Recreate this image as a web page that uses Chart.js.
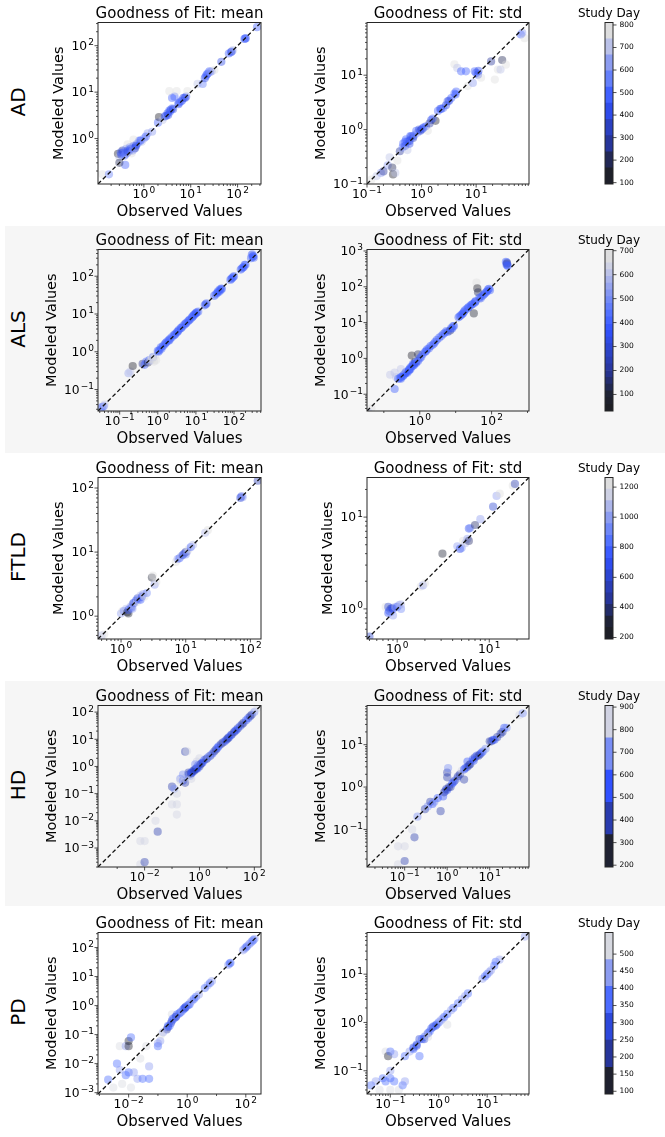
<!DOCTYPE html>
<html><head><meta charset="utf-8"><title>Goodness of Fit</title>
<script src="https://cdn.jsdelivr.net/npm/chart.js@4.4.1/dist/chart.umd.min.js"></script>
<style>
html,body{margin:0;padding:0;background:#fff}
#page{position:relative;width:665px;height:1137px;overflow:hidden;font-family:'DejaVu Sans',sans-serif;color:#000}
.band{position:absolute;left:5px;width:660px;background:#f6f6f6}
.cv{position:absolute}
.ttl{position:absolute;width:300px;text-align:center;font-size:15px;line-height:18px;white-space:nowrap}
.cbt{position:absolute;width:100px;text-align:center;font-size:12px;line-height:14px;white-space:nowrap}
.rl{position:absolute;width:80px;height:24px;line-height:24px;text-align:center;font-size:20px;transform:rotate(-90deg);white-space:nowrap}
</style></head>
<body><div id="page"></div>
<script>
// ---------------- DATA ----------------
const rowNames = ['AD','ALS','FTLD','HD','PD'];
const panelTitles = ['Goodness of Fit: mean','Goodness of Fit: std'];
const xAxisTitle = 'Observed Values';
const yAxisTitle = 'Modeled Values';
const cbarTitle = 'Study Day';

// AD
const adMeanLim = [0.105, 316];
const adMeanXTicks = [1, 10, 100];
const adMeanYTicks = [1, 10, 100];
const adMeanObs = [0.13,0.18,0.28,0.3,0.32,0.35,0.38,0.4,0.42,0.45,0.47,0.5,0.5,0.55,0.6,0.62,0.65,0.7,0.75,0.8,0.9,1.0,0.45,0.6,0.3,1.2,1.5,2.0,2.1,2.5,2.8,3.0,3.2,3.5,3.8,4.0,4.0,4.5,3.5,5.0,5.5,6.0,7.0,8.0,8.5,6.5,14,18,20,22,25,28,32,45,65,72,80,140,150,260,
  0.33,0.36,0.4,0.45,0.52,0.58,0.68,0.85,1.1,3.3,3.6,4.2,5.5,6.5,7.5,21,23,26,75,145];
const adMeanMod = [0.17,0.17,0.47,0.4,0.5,0.55,0.42,0.27,0.6,0.5,0.55,0.55,0.65,0.48,0.7,0.6,0.62,0.75,0.8,0.9,0.85,1.0,0.75,0.95,0.3,1.3,1.4,2.2,2.9,2.5,3.0,3.1,3.5,4.0,4.2,4.5,7.5,8.0,10.5,10.5,5.5,6.2,7.5,8.0,10.5,6.8,15,15,20,24,28,28,30,45,68,72,80,140,145,250,
  0.45,0.5,0.45,0.55,0.6,0.55,0.7,0.9,1.1,3.2,3.8,4.3,5.8,6.5,7.5,22,25,27,75,142];
const adMeanDay = [780,560,150,700,480,300,620,470,550,250,650,420,520,750,450,600,380,470,530,480,700,600,780,780,200,650,600,500,160,720,420,480,450,500,420,560,470,500,790,780,450,500,420,480,760,620,700,560,450,480,520,600,760,450,480,520,700,470,500,480,
  450,500,550,420,480,600,450,520,480,450,500,420,480,520,450,480,500,600,450,480];

const adStdLim = [0.1, 93];
const adStdXTicks = [0.1, 1, 10];
const adStdYTicks = [0.1, 1, 10];
const adStdObs = [0.12,0.15,0.18,0.2,0.24,0.26,0.29,0.3,0.33,0.36,0.4,0.45,0.46,0.5,0.5,0.52,0.55,0.6,0.62,0.65,0.7,0.75,0.8,0.85,0.9,1.0,1.1,1.2,1.3,1.5,1.8,2.0,2.2,2.5,3.0,3.5,4.0,4.3,4.0,4.5,5.3,6.5,7.0,8.7,9.4,10.8,12.3,18.8,22,25,28,30,35,66,77,
  0.55,0.6,0.7,0.95,1.05,1.4,1.6,2.3,2.8,3.2,4.2,10,11,70];
const adStdMod = [0.12,0.14,0.16,0.17,0.22,0.31,0.2,0.15,0.16,0.27,0.4,0.47,0.55,0.5,0.6,0.66,0.42,0.55,0.76,0.75,0.7,0.8,0.95,0.88,1.0,1.0,1.1,1.15,0.95,1.5,1.45,2.2,2.4,2.5,3.3,3.8,4.6,5.0,15.9,13.6,11.8,11.8,6.3,7.2,11.8,10.2,9.0,17.9,8.3,12.7,12.7,19,15.6,56,48,
  0.6,0.62,0.75,0.95,1.05,1.3,1.6,2.4,2.8,3.4,4.4,11,12,60];
const adStdDay = [780,700,600,250,650,720,200,150,700,760,300,550,480,420,500,470,700,450,480,450,350,600,500,650,400,300,480,520,760,450,160,500,400,550,420,480,500,480,790,700,520,480,780,620,500,450,760,300,780,740,700,200,770,500,780,
  480,450,500,420,520,300,480,500,450,420,480,500,450,650];

// ALS
const alsMeanLim = [0.027, 510];
const alsMeanXTicks = [0.1, 1, 10, 100];
const alsMeanYTicks = [0.1, 1, 10, 100];
const alsMeanObs = [0.034,0.038,0.04,0.17,0.19,0.22,0.4,0.45,0.5,0.55,0.6,0.65,0.7,0.75,0.8,0.85,0.9,1.0,1.1,1.2,1.35,1.5,1.7,1.9,2.1,2.3,2.6,2.9,3.2,3.6,4.0,4.5,5.0,5.6,6.2,7.0,7.8,8.6,9.5,10.5,11.5,18,30,33,36,40,44,48,80,90,100,150,170,200,280,290,310,330,
  1.05,1.25,1.6,2.0,2.8,3.4,4.2,5.3,6.6,8.2,9,10,17,19,38,42,46,85,95,160,180,190,300,320,0.6,0.7];
const alsMeanMod = [0.034,0.036,0.04,0.27,0.3,0.42,0.48,0.45,0.55,0.52,0.6,0.62,0.6,0.72,0.55,0.78,0.6,1.05,1.1,1.3,1.4,1.55,1.8,2.0,2.2,2.4,2.7,3.0,3.3,3.8,4.2,4.7,5.2,5.8,6.4,7.2,8.0,9.0,10,11,11.5,18,30,33,36,38,42,46,80,90,100,150,170,200,300,360,330,310,
  1.0,1.2,1.7,2.0,2.8,3.5,4.3,5.5,6.8,8.5,9.5,10.5,17,19,40,44,47,85,95,160,175,200,380,340,0.55,0.65];
const alsMeanDay = [380,420,600,560,600,60,200,380,420,100,380,640,680,420,660,650,690,380,400,420,380,400,420,380,400,420,380,400,360,420,380,400,420,380,400,420,380,400,420,380,420,300,400,420,380,400,420,380,400,420,400,380,420,400,380,550,420,400,
  400,420,380,400,420,380,400,420,380,400,420,380,400,420,380,400,420,380,400,420,380,400,420,380,600,680];

const alsStdLim = [0.034, 1100];
const alsStdXTicks = [1, 100];
const alsStdYTicks = [0.1, 1, 10, 100, 1000];
const alsStdObs = [0.038,0.042,0.045,0.2,0.2,0.22,0.25,0.28,0.3,0.33,0.36,0.4,0.42,0.45,0.5,0.52,0.55,0.6,0.6,0.65,0.7,0.75,0.8,0.85,0.9,0.9,1.0,1.1,1.2,1.4,1.6,1.8,2.0,2.3,2.7,3.0,3.5,4.0,4.5,5.0,6.0,7.0,8.0,9.0,12,13,15,17,20,23,26,30,32,35,38,40,42,45,50,60,70,80,90,250,260,270,280,
  0.3,0.35,0.4,0.5,0.55,0.65,0.7,0.8,1.5,2.5,5.5,7.5,8.5,14,16,18,22,28,34,36,46,55,65,75,85,265,275,0.15,0.3];
const alsStdMod = [0.03,0.025,0.04,0.14,0.4,0.3,0.27,0.28,0.3,0.32,0.35,0.38,0.42,0.4,0.45,0.5,0.55,0.6,1.2,0.62,0.7,0.8,0.75,0.95,0.85,1.3,1.0,1.1,1.3,1.5,1.8,1.9,2.2,2.4,2.9,3.3,3.8,4.2,4.8,5.2,5.5,6.0,6.8,8.0,14,15,17,20,24,27,30,33,18,38,130,90,70,45,48,60,70,85,80,500,420,450,380,
  0.27,0.33,0.4,0.48,0.5,0.7,0.65,0.8,1.6,2.6,5.8,7,8,16,18,22,26,32,36,40,50,55,65,75,88,480,400,0.35,0.5];
const alsStdDay = [550,60,650,380,620,600,400,420,380,400,420,380,400,420,380,400,420,380,60,400,420,100,380,650,400,120,380,420,400,380,420,400,380,420,400,380,420,400,380,420,400,150,380,420,380,400,420,380,400,420,380,400,100,420,680,80,120,600,400,380,420,400,380,400,380,80,420,
  400,420,380,400,420,380,400,420,380,400,420,380,400,420,380,400,420,380,400,420,380,400,420,380,400,420,380,600,620];

// FTLD
const ftldMeanLim = [0.44, 146];
const ftldMeanXTicks = [1, 10, 100];
const ftldMeanYTicks = [1, 10, 100];
const ftldMeanObs = [0.5,0.55,1.0,1.05,1.1,1.2,1.25,1.3,1.3,1.4,1.45,1.5,1.55,1.6,1.7,1.75,1.8,1.9,2.0,2.0,2.1,2.2,2.3,2.5,1.5,3.0,3.1,3.3,3.5,7.0,7.5,8.0,8.5,9.0,9.5,10,10,10.5,11,12,13,20,22,70,73,76,130];
const ftldMeanMod = [0.5,0.52,1.1,1.2,1.2,1.3,1.15,1.1,1.25,1.4,1.35,1.5,1.6,1.6,1.75,1.65,1.9,1.85,1.8,2.1,2.0,2.2,2.0,2.3,1.3,4.0,4.3,3.1,3.4,7.0,7.8,8.0,8.6,9.0,9.5,10,9.2,10.2,11,12,13,20,22,70,74,72,130];
const ftldMeanDay = [1100,1230,1000,1230,900,1100,230,300,800,1000,700,1100,650,900,750,1230,600,1000,800,1100,700,1000,1230,900,1000,300,1230,1000,1230,1230,1000,800,1100,600,700,450,900,1000,1230,800,1100,1100,1230,600,700,1000,500];

const ftldStdLim = [0.47, 27];
const ftldStdXTicks = [1, 10];
const ftldStdYTicks = [1, 10];
const ftldStdObs = [0.5,0.75,0.8,0.8,0.82,0.85,0.85,0.88,0.9,0.9,0.95,1.0,1.05,1.1,1.1,1.8,1.9,2.0,3.1,4.5,4.8,5.0,5.2,5.5,5.8,6.0,6.0,6.2,7.0,8.0,11,12,13,18,19];
const ftldStdMod = [0.5,1.05,0.9,1.05,0.95,1.0,0.92,1.02,0.85,1.0,1.05,1.05,1.1,1.0,1.12,1.75,1.8,1.9,4.0,4.8,4.5,4.6,5.5,5.2,5.8,5.5,7.5,7.6,8.2,9.5,13,17,18,22,23];
const ftldStdDay = [600,1230,700,600,800,500,900,650,1000,700,1100,800,1000,900,1100,1230,1000,1230,300,1000,700,900,1230,1100,1000,400,700,900,350,1000,600,1000,1230,1230,500];

// HD
const hdMeanLim = [0.0002, 175];
const hdMeanXTicks = [0.01, 1, 100];
const hdMeanYTicks = [0.001, 0.01, 0.1, 1, 10, 100];
const hdMeanObs = [0.007,0.01,0.007,0.01,0.025,0.03,0.1,0.15,0.15,0.1,0.12,0.15,0.2,0.25,0.3,0.3,0.3,0.35,0.4,0.4,0.45,0.5,0.5,0.6,0.7,0.8,0.8,0.9,1.0,1.0,1.2,1.5,2.0,2.5,3.0,4.0,5.0,6.0,8.0,10,12,15,20,25,30,40,60,80,100,130,
  0.5,0.55,0.65,0.75,0.85,1.1,1.3,1.8,2.2,3.5,4.5,7,9,11,14,18,22,35,50,70,0.25,0.2,0.7];
const hdMeanMod = [0.00025,0.0003,0.0018,0.0018,0.01,0.004,0.04,0.017,0.04,0.18,0.15,0.1,0.35,0.3,0.38,0.25,3.5,3.6,0.6,0.5,0.45,0.6,0.35,0.7,0.8,0.9,1.5,1.1,1.0,2.0,1.3,1.7,2.1,2.5,3.0,4.2,5.5,6.5,8.0,10,12,15,20,25,30,40,60,80,100,140,
  0.55,0.6,0.7,0.8,0.85,1.2,1.4,1.9,2.3,3.6,4.8,7.5,9,11,14,18,22,35,50,70,0.5,0.3,1.2];
const hdMeanDay = [840,400,840,840,840,450,840,840,840,450,690,840,690,550,840,400,450,840,400,450,690,550,840,450,550,400,840,550,450,840,450,550,690,450,550,450,550,450,690,450,550,450,550,450,550,450,550,450,690,840,
  450,550,450,400,550,450,550,450,690,450,550,450,550,450,550,450,550,450,550,450,690,840,690];

const hdStdLim = [0.013, 84];
const hdStdXTicks = [0.1, 1, 10];
const hdStdYTicks = [0.1, 1, 10];
const hdStdObs = [0.07,0.1,0.07,0.1,0.15,0.17,0.2,0.3,0.35,0.4,0.45,0.5,0.7,0.8,0.9,0.95,1.0,1.0,1.0,1.05,1.2,1.3,1.5,1.7,2.0,2.2,2.5,2.5,3.0,3.0,3.5,4.0,4.5,5.0,6.0,7.0,10,12,15,20,22,50,60,
  1.1,1.4,1.8,2.7,3.3,4.2,5.5,6.5,8,11,13,18,25,0.6,0.85];
const hdStdMod = [0.015,0.018,0.04,0.04,0.1,0.065,0.2,0.3,0.35,0.45,0.4,0.45,0.27,0.6,0.8,0.9,1.7,2.2,0.85,2.8,1.0,1.2,1.4,1.6,2.0,2.4,1.5,2.6,3.0,4.0,3.5,4.5,5.0,5.5,6.0,7.0,12,13,15,20,25,50,55,
  1.0,1.3,1.8,2.8,3.3,4.2,5.5,6.5,8,12,13,18,25,0.55,0.75];
const hdStdDay = [840,450,840,840,840,450,690,450,690,450,550,690,450,550,690,450,450,400,550,690,450,550,450,690,450,840,450,550,450,550,450,550,450,550,450,690,450,550,450,450,550,840,690,
  450,550,450,550,450,550,450,550,690,450,550,450,690,550,450];

// PD
const pdMeanLim = [0.0009, 330];
const pdMeanXTicks = [0.01, 1, 100];
const pdMeanYTicks = [0.001, 0.01, 0.1, 1, 10, 100];
const pdMeanObs = [0.002,0.003,0.004,0.005,0.005,0.006,0.008,0.008,0.01,0.01,0.01,0.012,0.012,0.015,0.02,0.025,0.03,0.04,0.05,0.05,0.1,0.1,0.12,0.2,0.22,0.25,0.3,0.3,0.35,0.4,0.45,0.5,0.6,0.7,0.8,0.9,1.0,1.2,1.5,2.0,5.0,6.0,25,30,80,100,130,160,200,
  0.22,0.28,0.32,0.38,0.42,0.55,0.65,0.75,0.85,1.1,1.3,1.7,2.5,4,7,28,90,110,140,180,0.15,0.13];
const pdMeanMod = [0.0028,0.0015,0.01,0.006,0.04,0.002,0.004,0.04,0.06,0.04,0.005,0.08,0.0015,0.005,0.003,0.015,0.003,0.04,0.003,0.008,0.05,0.04,0.06,0.15,0.18,0.2,0.3,0.5,0.35,0.4,0.5,0.5,0.6,0.7,0.8,0.9,1.0,1.1,1.5,2.0,5.0,6.0,25,30,80,100,130,160,200,
  0.2,0.25,0.35,0.4,0.42,0.55,0.62,0.75,0.85,1.05,1.3,1.7,2.4,4,7,28,90,110,140,180,0.12,0.1];
const pdMeanDay = [360,520,360,440,520,520,360,440,130,150,360,360,520,440,440,520,360,520,360,440,440,360,440,210,290,360,290,520,360,290,360,440,360,440,360,290,440,360,440,360,440,360,440,360,440,360,440,360,440,
  360,290,360,440,290,360,440,360,290,360,440,360,440,360,440,360,440,360,440,360,440,520];

const pdStdLim = [0.033, 73];
const pdStdXTicks = [0.1, 1, 10];
const pdStdYTicks = [0.1, 1, 10];
const pdStdObs = [0.04,0.05,0.06,0.07,0.08,0.08,0.09,0.1,0.1,0.1,0.1,0.12,0.12,0.15,0.18,0.2,0.2,0.25,0.3,0.35,0.4,0.4,0.5,0.6,0.7,0.8,0.9,1.0,1.2,1.5,1.5,2.0,3.0,4.0,8.0,10,12,15,18,60,
  0.3,0.35,0.45,0.55,0.65,0.75,0.85,1.1,1.3,1.8,2.5,3.5,9,11,14,0.5,0.6];
const pdStdMod = [0.05,0.06,0.04,0.07,0.06,0.25,0.2,0.25,0.1,0.07,0.04,0.22,0.06,0.04,0.05,0.06,0.2,0.25,0.3,0.35,0.45,0.2,0.5,0.6,0.75,0.85,0.9,1.0,1.2,1.5,0.9,2.0,3.0,4.0,8.0,10,12,18,20,60,
  0.28,0.33,0.45,0.55,0.65,0.8,0.85,1.1,1.3,1.8,2.5,3.5,9,11,15,0.45,0.5];
const pdStdDay = [360,440,520,360,360,520,130,360,440,360,520,440,360,520,360,440,360,440,290,360,290,360,360,290,360,440,290,360,440,360,520,360,440,360,440,360,440,360,440,440,
  360,290,360,440,360,290,360,440,360,440,360,440,360,440,360,290,520];

// Colorbars (Study Day): band boundaries and tick labels
const adDayBounds = [94,166,237,309,381,453,524,596,668,739,811];
const adDayTicks = [100,200,300,400,500,600,700,800];
const alsDayBounds = [31,59,87,115,143,171,200,228,256,284,312,340,368,396,424,452,480,508,537,565,593,621,649,677,705];
const alsDayTicks = [100,200,300,400,500,600,700];
const ftldDayBounds = [190,267,343,420,497,573,650,727,804,880,957,1034,1110,1187,1264];
const ftldDayTicks = [200,400,600,800,1000,1200];
const hdDayBounds = [192,335,478,621,764,907];
const hdDayTicks = [200,300,400,500,600,700,800,900];
const pdDayBounds = [92,170,249,327,406,484,563];
const pdDayTicks = [100,150,200,250,300,350,400,450,500];

// ---------------- STYLE / LAYOUT ----------------
Chart.defaults.font.family = "'DejaVu Sans'";
Chart.defaults.color = '#000';
const FONT = "'DejaVu Sans'";
const rowTops = [0, 227, 455, 683, 910];
const frameX = [[98, 261], [367, 529]];
const FR_TOP = 22.5, FR_BOT = 184, ROW_H = 227;
const YAX_W = 68, CANVAS_W = 250;
const TICK_LEN = 3.5;
const BASE_FS = 12.3, SUP_FS = 9, SUP_RAISE = 4.8, SUP_GAP = 1.2;
const XLAB_BASE = 14, YLAB_PAD = 4, YLAB_DROP = 4.3;
const ALPHA = 0.42, RADIUS = 4.1;
const cmapStops = [
  [0, [28,29,33]], [0.1, [31,34,50]], [0.25, [39,53,154]], [0.42, [45,72,221]],
  [0.5, [48,80,255]], [0.6, [80,112,255]], [0.75, [140,156,240]], [0.87, [195,200,230]],
  [0.93, [220,220,222]], [1, [222,222,222]]
];
function cmap(t) {
  for (let i = 1; i < cmapStops.length; i++) {
    if (t <= cmapStops[i][0]) {
      const [t0, c0] = cmapStops[i-1], [t1, c1] = cmapStops[i];
      const f = (t - t0) / (t1 - t0);
      return c0.map((v, k) => Math.round(v + (c1[k] - v) * f));
    }
  }
  return cmapStops[cmapStops.length-1][1];
}
function bandIndex(day, bounds) {
  let i = 0;
  while (i < bounds.length - 2 && day > bounds[i+1]) i++;
  return i;
}
function dayColor(day, bounds, a) {
  const n = bounds.length - 1;
  const c = cmap((bandIndex(day, bounds) + 0.5) / n);
  return `rgba(${c[0]},${c[1]},${c[2]},${a})`;
}
function expText(v) { return String(Math.round(Math.log10(v))).replace('-', '\u2212'); }
function buildLogTicks(lim, labeled) {
  const lo = Math.log10(lim[0]), hi = Math.log10(lim[1]);
  const labE = labeled.map(v => Math.round(Math.log10(v)));
  const decs = [];
  for (let e = Math.ceil(lo - 1e-9); e <= Math.floor(hi + 1e-9); e++) decs.push(e);
  const stride1 = decs.every(e => labE.includes(e));
  const out = [];
  for (let e = Math.floor(lo) - 1; e <= Math.ceil(hi); e++) {
    const base = Math.pow(10, e);
    if (labE.includes(e)) out.push({value: base, major: true, lab: true});
    else if (!stride1) out.push({value: base, major: false, lab: false});
    if (stride1) for (let k = 2; k <= 9; k++) out.push({value: k * base, major: false, lab: false});
  }
  return out.filter(t => t.value >= lim[0] * 0.9999 && t.value <= lim[1] * 1.0001)
            .sort((a, b) => a.value - b.value);
}
const mctx = document.createElement('canvas').getContext('2d');
function powWidth(ctx, v) {
  ctx.font = BASE_FS + 'px ' + FONT; const wb = ctx.measureText('10').width;
  ctx.font = SUP_FS + 'px ' + FONT; const we = ctx.measureText(expText(v)).width;
  return {wb, we, w: wb + SUP_GAP + we};
}
function drawPow(ctx, v, x, y, align) {
  const m = powWidth(ctx, v);
  const x0 = align === 'center' ? x - m.w / 2 : x - m.w;
  ctx.textAlign = 'left'; ctx.textBaseline = 'alphabetic'; ctx.fillStyle = '#000';
  ctx.font = BASE_FS + 'px ' + FONT; ctx.fillText('10', x0, y);
  ctx.font = SUP_FS + 'px ' + FONT; ctx.fillText(expText(v), x0 + m.wb + SUP_GAP, y - SUP_RAISE);
}

const framePlugin = {
  id: 'frameTicks',
  afterDraw(chart) {
    const {ctx, chartArea: a, scales} = chart;
    ctx.save();
    ctx.strokeStyle = '#262626';
    ctx.lineWidth = 1;
    ctx.strokeRect(a.left, a.top, a.right - a.left, a.bottom - a.top);
    ctx.lineWidth = 0.8;
    ctx.beginPath();
    const x = scales.x, y = scales.y;
    const labs = [];
    if (x && x.type === 'logarithmic') {
      x.ticks.forEach(t => {
        const p = x.getPixelForValue(t.value);
        if (p < a.left - 0.5 || p > a.right + 0.5) return;
        const L = t.major ? TICK_LEN : 2;
        ctx.moveTo(p, a.bottom); ctx.lineTo(p, a.bottom + L);
        if (t.lab) labs.push([t.value, p, a.bottom + XLAB_BASE, 'center']);
      });
    }
    if (y) {
      y.ticks.forEach(t => {
        const p = y.getPixelForValue(t.value);
        if (p < a.top - 0.5 || p > a.bottom + 0.5) return;
        if (y.position === 'right') {
          ctx.moveTo(a.right, p); ctx.lineTo(a.right + TICK_LEN, p);
        } else {
          const L = t.major ? TICK_LEN : 2;
          ctx.moveTo(a.left, p); ctx.lineTo(a.left - L, p);
          if (t.lab) labs.push([t.value, a.left - YLAB_PAD, p + YLAB_DROP, 'right']);
        }
      });
    }
    ctx.stroke();
    labs.forEach(l => drawPow(ctx, l[0], l[1], l[2], l[3]));
    ctx.restore();
  }
};

const page = document.getElementById('page');
function addDiv(cls, css, text) {
  const d = document.createElement('div');
  d.className = cls;
  Object.assign(d.style, css);
  if (text !== undefined) d.textContent = text;
  page.appendChild(d);
  return d;
}
function addCanvas(left, top, w, h) {
  const c = document.createElement('canvas');
  c.className = 'cv';
  c.width = w; c.height = h;
  c.style.left = left + 'px'; c.style.top = top + 'px';
  c.style.width = w + 'px'; c.style.height = h + 'px';
  page.appendChild(c);
  return c;
}

// background bands for alternate rows
addDiv('band', {top: '226px', height: '227px'});
addDiv('band', {top: '681px', height: '225px'});

function scatterPanel(row, col, obs, mod, day, lim, xt, yt, bounds) {
  const r0 = rowTops[row];
  const [fl, fr] = frameX[col];
  const left = fl - YAX_W;
  const cv = addCanvas(left, r0, CANVAS_W, ROW_H);
  addDiv('ttl', {left: ((fl + fr) / 2 - 150) + 'px', top: (r0 + 3.5) + 'px'}, panelTitles[col]);
  const maxW = Math.max(...yt.map(v => powWidth(mctx, v).w));
  const yTitleFs = 14.5, yTitleLH = yTitleFs * 1.2;
  const yTitleCenter = YAX_W - YLAB_PAD - maxW - 12;
  const xTitleFs = 15, xTitleLH = xTitleFs * 1.2;
  const points = obs.map((v, i) => ({x: v, y: mod[i]}));
  const colors = day.map(d => dayColor(d, bounds, ALPHA));
  new Chart(cv.getContext('2d'), {
    type: 'scatter',
    data: {
      datasets: [
        {type: 'line', data: [{x: lim[0], y: lim[0]}, {x: lim[1], y: lim[1]}],
         borderColor: '#111', borderWidth: 1.3, borderDash: [4.2, 2.6], pointRadius: 0,
         fill: false, order: 0, clip: 0, tension: 0},
        {data: points, pointRadius: RADIUS, pointBackgroundColor: colors, pointBorderWidth: 0,
         pointBorderColor: 'rgba(0,0,0,0)', order: 1, clip: 0}
      ]
    },
    options: {
      responsive: false, animation: false, events: [],
      layout: {padding: {left: 0, top: FR_TOP, right: CANVAS_W - YAX_W - (fr - fl), bottom: 0}},
      plugins: {legend: {display: false}, tooltip: {enabled: false}, title: {display: false}},
      scales: {
        x: {
          type: 'logarithmic', min: lim[0], max: lim[1],
          afterBuildTicks: s => { s.ticks = buildLogTicks(lim, xt); },
          afterFit: s => { s.height = ROW_H - FR_BOT; },
          grid: {display: false, drawTicks: true, tickLength: TICK_LEN},
          border: {display: false},
          ticks: {display: false, autoSkip: false, maxRotation: 0, minRotation: 0},
          title: {display: true, text: xAxisTitle, color: '#000', font: {size: xTitleFs},
                  padding: {top: 0, bottom: 15 - xTitleLH / 2}}
        },
        y: {
          type: 'logarithmic', min: lim[0], max: lim[1],
          afterBuildTicks: s => { s.ticks = buildLogTicks(lim, yt); },
          afterFit: s => { s.width = YAX_W; },
          grid: {display: false, drawTicks: true, tickLength: TICK_LEN},
          border: {display: false},
          ticks: {display: false, autoSkip: false},
          title: {display: true, text: yAxisTitle, color: '#000', font: {size: yTitleFs},
                  padding: {top: yTitleCenter - yTitleLH / 2, bottom: 0}}
        }
      }
    },
    plugins: [framePlugin]
  });
}

function colorbarPanel(row, bounds, ticksArr) {
  const r0 = rowTops[row];
  const cvLeft = 575, cvW = 70, cbLeft = 605, cbRight = 613;
  const cv = addCanvas(cvLeft, r0, cvW, ROW_H);
  addDiv('cbt', {left: ((cbLeft + cbRight) / 2 - 50) + 'px', top: (r0 + 6.3) + 'px'}, cbarTitle);
  const n = bounds.length - 1;
  const datasets = [];
  for (let i = 0; i < n; i++) {
    const c = cmap((i + 0.5) / n);
    datasets.push({data: [[bounds[i], bounds[i+1]]], backgroundColor: `rgb(${c[0]},${c[1]},${c[2]})`,
                   borderWidth: 0, barPercentage: 1, categoryPercentage: 1, grouped: false});
  }
  new Chart(cv.getContext('2d'), {
    type: 'bar',
    data: {labels: [''], datasets},
    options: {
      responsive: false, animation: false, events: [],
      layout: {padding: {left: cbLeft - cvLeft, top: FR_TOP, right: 0, bottom: ROW_H - FR_BOT}},
      plugins: {legend: {display: false}, tooltip: {enabled: false}, title: {display: false}},
      scales: {
        x: {display: false},
        y: {
          type: 'linear', position: 'right', min: bounds[0], max: bounds[n],
          afterBuildTicks: s => { s.ticks = ticksArr.map(v => ({value: v})); },
          afterFit: s => { s.width = cvW - (cbRight - cvLeft); },
          grid: {display: false, drawTicks: true, tickLength: TICK_LEN},
          border: {display: false},
          ticks: {autoSkip: false, padding: 3, font: {size: 7.5}, color: '#000',
                  callback: v => String(v)}
        }
      }
    },
    plugins: [framePlugin]
  });
}

// row labels
rowNames.forEach((name, r) => {
  addDiv('rl', {left: (18 - 40) + 'px', top: (rowTops[r] + 102 - 12) + 'px'}, name);
});

scatterPanel(0, 0, adMeanObs, adMeanMod, adMeanDay, adMeanLim, adMeanXTicks, adMeanYTicks, adDayBounds);
scatterPanel(0, 1, adStdObs, adStdMod, adStdDay, adStdLim, adStdXTicks, adStdYTicks, adDayBounds);
colorbarPanel(0, adDayBounds, adDayTicks);

scatterPanel(1, 0, alsMeanObs, alsMeanMod, alsMeanDay, alsMeanLim, alsMeanXTicks, alsMeanYTicks, alsDayBounds);
scatterPanel(1, 1, alsStdObs, alsStdMod, alsStdDay, alsStdLim, alsStdXTicks, alsStdYTicks, alsDayBounds);
colorbarPanel(1, alsDayBounds, alsDayTicks);

scatterPanel(2, 0, ftldMeanObs, ftldMeanMod, ftldMeanDay, ftldMeanLim, ftldMeanXTicks, ftldMeanYTicks, ftldDayBounds);
scatterPanel(2, 1, ftldStdObs, ftldStdMod, ftldStdDay, ftldStdLim, ftldStdXTicks, ftldStdYTicks, ftldDayBounds);
colorbarPanel(2, ftldDayBounds, ftldDayTicks);

scatterPanel(3, 0, hdMeanObs, hdMeanMod, hdMeanDay, hdMeanLim, hdMeanXTicks, hdMeanYTicks, hdDayBounds);
scatterPanel(3, 1, hdStdObs, hdStdMod, hdStdDay, hdStdLim, hdStdXTicks, hdStdYTicks, hdDayBounds);
colorbarPanel(3, hdDayBounds, hdDayTicks);

scatterPanel(4, 0, pdMeanObs, pdMeanMod, pdMeanDay, pdMeanLim, pdMeanXTicks, pdMeanYTicks, pdDayBounds);
scatterPanel(4, 1, pdStdObs, pdStdMod, pdStdDay, pdStdLim, pdStdXTicks, pdStdYTicks, pdDayBounds);
colorbarPanel(4, pdDayBounds, pdDayTicks);
</script>
</body></html>
